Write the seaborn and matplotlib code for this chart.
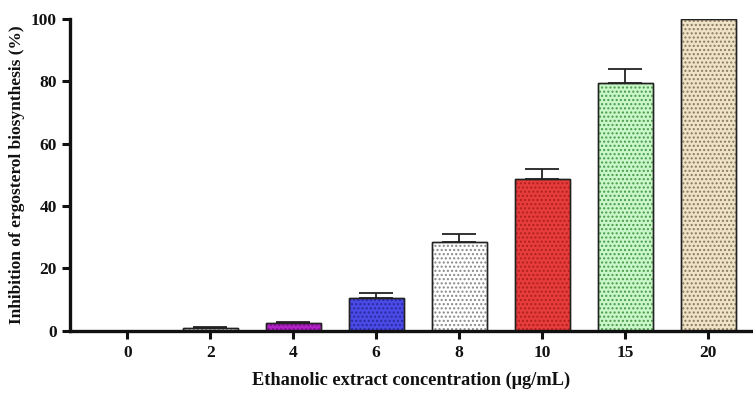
import matplotlib
matplotlib.use("Agg")
import matplotlib.pyplot as plt
import seaborn as sns
import pandas as pd

# data
concentrations = ["0", "2", "4", "6", "8", "10", "15", "20"]
inhibition = [0.0, 1.0, 2.5, 10.7, 28.5, 48.6, 79.3, 100.0]
sd = [0.0, 0.3, 0.5, 1.5, 2.7, 3.3, 4.6, 0.0]

face_colors = ["#ffffff", "#f4f4f4", "#b322c8", "#4a4ae6", "#ffffff", "#e63c3c", "#c9f7c9", "#eee3c6"]
dot_colors = ["#ffffff", "#888888", "#7a0f8a", "#2a2aa0", "#888888", "#b02020", "#4a9a4a", "#8a7a60"]

sns.set_style("ticks")
plt.rcParams["font.family"] = ["Liberation Serif", "DejaVu Serif"]
plt.rcParams["font.weight"] = "bold"
plt.rcParams["text.color"] = "#111111"
plt.rcParams["axes.labelcolor"] = "#111111"
plt.rcParams["hatch.linewidth"] = 1.0

df = pd.DataFrame({"conc": concentrations, "inh": inhibition})

fig = plt.figure(figsize=(7.53, 3.93), dpi=100)
ax = fig.add_axes([0.093, 0.158, 0.907, 0.794])

sns.barplot(data=df, x="conc", y="inh", ax=ax, width=0.66, color="white",
            edgecolor="#222222", linewidth=1.0, errorbar=None)

for i, p in enumerate(ax.patches):
    if inhibition[i] <= 0:
        p.set_visible(False)
        continue
    p.set_facecolor(face_colors[i])
    # dotted overlay in a darker tone
    ax.bar(p.get_x() + p.get_width() / 2, p.get_height(), width=p.get_width(),
           facecolor="none", edgecolor=dot_colors[i], hatch="....", linewidth=0, zorder=p.get_zorder() + 0.1)
    ax.bar(p.get_x() + p.get_width() / 2, p.get_height(), width=p.get_width(),
           facecolor="none", edgecolor="#222222", linewidth=1.0, zorder=p.get_zorder() + 0.2)

xs = list(range(len(concentrations)))
ax.errorbar(xs, inhibition, yerr=[[0] * len(sd), sd], fmt="none", ecolor="#222222",
            elinewidth=1.3, capsize=12, capthick=1.3, zorder=1)

ax.set_ylim(0, 100)
ax.set_xlim(-0.69, 7.54)
ax.set_yticks([0, 20, 40, 60, 80, 100])
sns.despine(ax=ax)
ax.spines["left"].set_linewidth(2.4)
ax.spines["bottom"].set_linewidth(2.4)
ax.spines["left"].set_color("#111111")
ax.spines["bottom"].set_color("#111111")
ax.tick_params(axis="both", width=2.2, length=6, labelsize=12.5, colors="#111111")
ax.tick_params(axis="x", pad=4)
for lab in ax.get_xticklabels() + ax.get_yticklabels():
    lab.set_fontweight("bold")

ax.set_xlabel("Ethanolic extract concentration (μg/mL)", fontsize=13.2, fontweight="bold", labelpad=8)
ax.set_ylabel("Inhibition of ergosterol biosynthesis (%)", fontsize=12.5, fontweight="bold", labelpad=4)

fig.savefig("out.png", dpi=100)
